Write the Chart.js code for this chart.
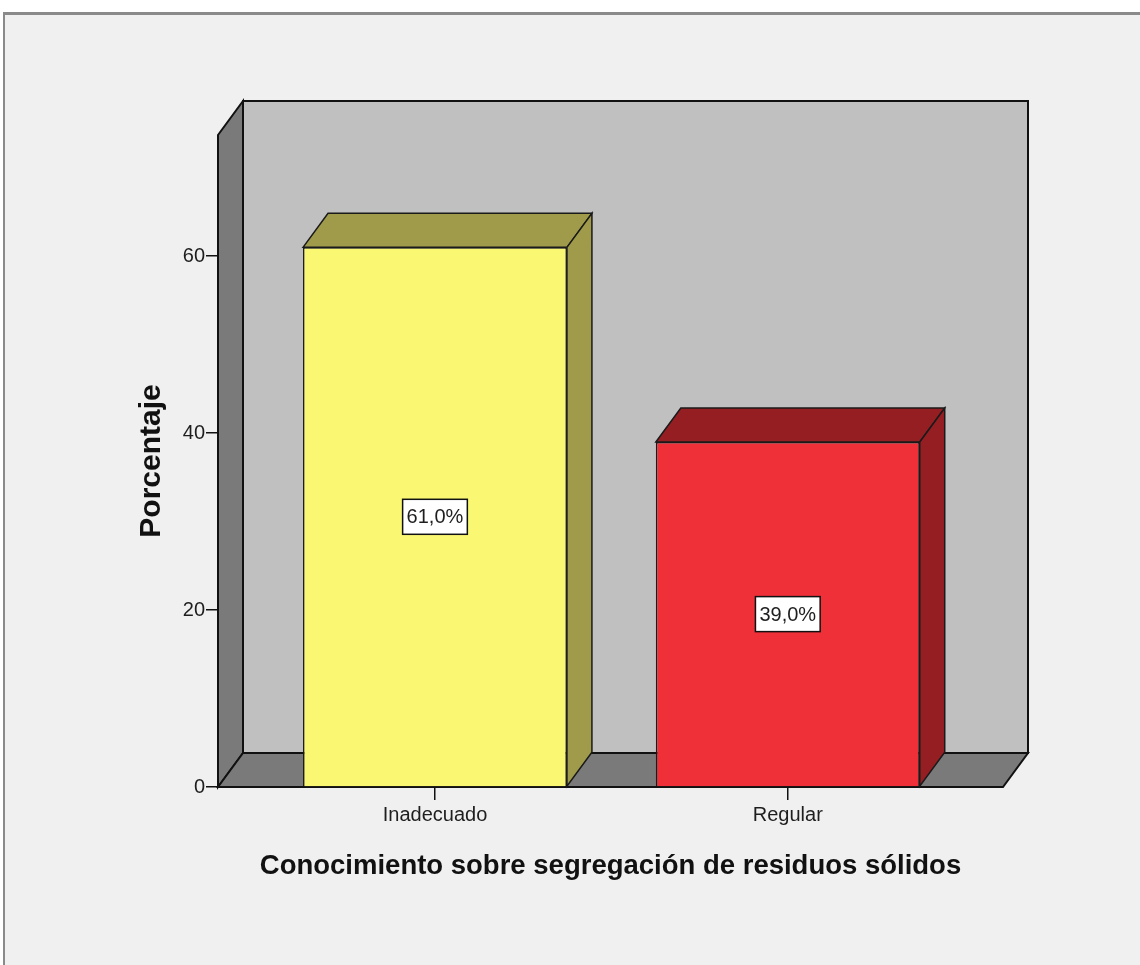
<!DOCTYPE html>
<html>
<head>
<meta charset="utf-8">
<script src="https://cdn.jsdelivr.net/npm/chart.js@4"></script>
<style>
  html, body { margin: 0; padding: 0; background: #fff; }
  #marco {
    position: absolute; left: 3px; top: 12px; right: 0; bottom: 0;
    background: #f0f0f0;
    border-top: 3px solid #8a8a8a;
    border-left: 2px solid #8a8a8a;
  }
  #grafico { position: absolute; left: 0; top: 0; }
</style>
</head>
<body>
<div id="marco"></div>
<canvas id="grafico" width="1140" height="965"></canvas>
<script>
// datos del grafico
const categorias = ["Inadecuado", "Regular"];
const porcentajes = [61.0, 39.0];
const ticksY = [0, 20, 40, 60];
const maxY = 73.7;

const coloresFrente = ["#faf773", "#ef3039"];
const coloresLado = ["#9f9b4a", "#951e23"];

const fuente = "Arial, 'Liberation Sans', sans-serif";
// profundidad del efecto 3D
const DX = 25, DY = 34;

console.log("grafico cargando");

function poligono(ctx, pts, relleno) {
  ctx.beginPath();
  ctx.moveTo(pts[0][0], pts[0][1]);
  for (let i = 1; i < pts.length; i++) ctx.lineTo(pts[i][0], pts[i][1]);
  ctx.closePath();
  ctx.fillStyle = relleno;
  ctx.fill();
  ctx.stroke();
}

// pared del fondo, pared lateral y piso
const paredes = {
  id: "paredes",
  beforeDraw(chart) {
    const ctx = chart.ctx;
    const xs = chart.scales.x, ys = chart.scales.y;
    const x0 = xs.left, x1 = xs.right;
    const yb = ys.getPixelForValue(0), yt = ys.top;
    ctx.save();
    ctx.strokeStyle = "#111";
    ctx.lineWidth = 2;
    ctx.lineJoin = "miter";
    poligono(ctx, [[x0 + DX, yt - DY], [x1 + DX, yt - DY], [x1 + DX, yb - DY], [x0 + DX, yb - DY]], "#c0c0c0");
    poligono(ctx, [[x0, yt], [x0 + DX, yt - DY], [x0 + DX, yb - DY], [x0, yb]], "#7a7a7a");
    poligono(ctx, [[x0, yb], [x1, yb], [x1 + DX, yb - DY], [x0 + DX, yb - DY]], "#7a7a7a");
    ctx.restore();
  }
};

// caras superior y lateral de cada barra, mas la etiqueta del porcentaje
const barras3d = {
  id: "barras3d",
  afterDatasetsDraw(chart) {
    const ctx = chart.ctx;
    const meta = chart.getDatasetMeta(0);
    ctx.save();
    ctx.strokeStyle = "#1a1a1a";
    ctx.lineWidth = 1.5;
    meta.data.forEach((el, i) => {
      const izq = el.x - el.width / 2, der = el.x + el.width / 2;
      const y = el.y, base = el.base;
      poligono(ctx, [[izq, y], [izq + DX, y - DY], [der + DX, y - DY], [der, y]], coloresLado[i]);
      poligono(ctx, [[der, y], [der + DX, y - DY], [der + DX, base - DY], [der, base]], coloresLado[i]);

      const texto = porcentajes[i].toFixed(1).replace(".", ",") + "%";
      ctx.font = "20px " + fuente;
      const w = ctx.measureText(texto).width + 8, h = 35;
      const cy = (y + base) / 2;
      ctx.fillStyle = "#fff";
      ctx.fillRect(el.x - w / 2, cy - h / 2, w, h);
      ctx.strokeStyle = "#111";
      ctx.strokeRect(el.x - w / 2, cy - h / 2, w, h);
      ctx.fillStyle = "#1e1e1e";
      ctx.textAlign = "center";
      ctx.textBaseline = "middle";
      ctx.fillText(texto, el.x, cy + 1);
      ctx.strokeStyle = "#1a1a1a";
    });
    ctx.restore();
  }
};

const ctx = document.getElementById("grafico").getContext("2d");
const chart = new Chart(ctx, {
  type: "bar",
  data: {
    datasets: [{
      data: porcentajes.map((v, i) => ({ x: i, y: v })),
      backgroundColor: coloresFrente,
      borderColor: "#1a1a1a",
      borderWidth: 1.5,
      barPercentage: 0.748,
      categoryPercentage: 1
    }]
  },
  plugins: [paredes, barras3d],
  options: {
    responsive: false,
    animation: false,
    events: [],
    layout: { padding: { left: 120, right: 137, top: 135, bottom: 78 } },
    plugins: { legend: { display: false }, tooltip: { enabled: false } },
    scales: {
      x: {
        type: "linear",
        offset: false,
        min: -0.615,
        max: 1.61,
        afterBuildTicks: (s) => { s.ticks = categorias.map((c, i) => ({ value: i })); },
        afterFit: (s) => { s.height = 100; },
        ticks: {
          callback: (v) => categorias[v],
          font: { size: 20, family: fuente },
          color: "#1e1e1e",
          padding: 3,
          maxRotation: 0
        },
        grid: { offset: false, drawOnChartArea: false, tickLength: 13, color: "#111", lineWidth: 1.5 },
        border: { display: false },
        title: {
          display: true,
          text: "Conocimiento sobre segregación de residuos sólidos",
          font: { size: 27.5, weight: "bold", family: fuente },
          color: "#111",
          padding: { top: 0, bottom: 4 }
        }
      },
      y: {
        min: 0,
        max: maxY,
        afterBuildTicks: (s) => { s.ticks = ticksY.map(v => ({ value: v })); },
        afterFit: (s) => { s.width = 98; },
        ticks: {
          font: { size: 20, family: fuente },
          color: "#1e1e1e",
          padding: 1
        },
        grid: { drawOnChartArea: false, tickLength: 12, color: "#111", lineWidth: 1.5 },
        border: { display: false },
        title: {
          display: true,
          text: "Porcentaje",
          font: { size: 30, weight: "bold", family: fuente },
          color: "#111",
          padding: { top: 14, bottom: 0 }
        }
      }
    }
  }
});
</script>
</body>
</html>
